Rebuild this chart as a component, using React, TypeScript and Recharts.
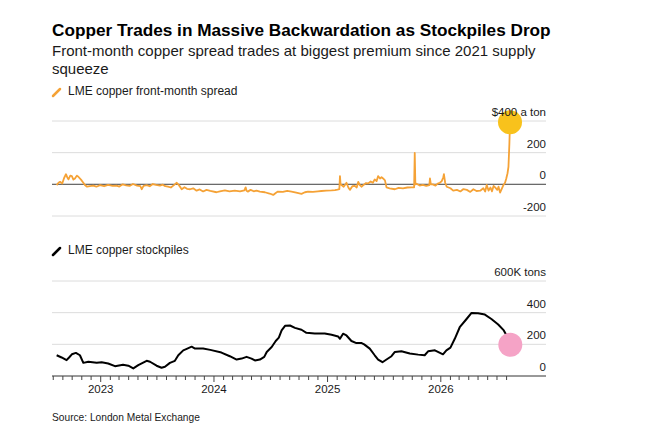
import React from 'react';
import { LineChart, Line, XAxis, YAxis, CartesianGrid, ReferenceLine } from 'recharts';

// ---------- DATA ----------
const spreadDates = [
  '2022-08-12', '2022-08-18', '2022-08-23', '2022-08-30', '2022-09-05', '2022-09-11', '2022-09-15', '2022-09-19',
  '2022-09-25', '2022-09-30', '2022-10-05', '2022-10-10', '2022-10-16', '2022-10-21', '2022-10-27', '2022-11-01',
  '2022-11-06', '2022-11-11', '2022-11-18', '2022-11-27', '2022-12-08', '2022-12-18', '2022-12-30', '2023-01-12',
  '2023-01-25', '2023-02-08', '2023-02-21', '2023-03-02', '2023-03-13', '2023-03-24', '2023-04-04', '2023-04-15',
  '2023-04-28', '2023-05-09', '2023-05-13', '2023-05-19', '2023-05-29', '2023-06-08', '2023-06-18', '2023-06-28',
  '2023-07-11', '2023-07-20', '2023-07-28', '2023-08-06', '2023-08-15', '2023-08-25', '2023-09-03', '2023-09-10',
  '2023-09-19', '2023-09-28', '2023-10-06', '2023-10-16', '2023-10-26', '2023-11-06', '2023-11-16', '2023-11-27',
  '2023-12-08', '2023-12-20', '2024-01-09', '2024-01-20', '2024-02-05', '2024-02-20', '2024-03-08', '2024-03-25',
  '2024-04-08', '2024-04-12', '2024-04-15', '2024-04-19', '2024-04-28', '2024-05-08', '2024-05-17', '2024-05-28',
  '2024-06-13', '2024-06-28', '2024-07-10', '2024-07-18', '2024-07-25', '2024-08-10', '2024-08-24', '2024-09-07',
  '2024-09-22', '2024-10-09', '2024-10-20', '2024-10-30', '2024-11-15', '2024-12-01', '2024-12-12', '2024-12-28',
  '2025-01-14', '2025-01-25', '2025-02-02', '2025-02-08', '2025-02-10', '2025-02-12', '2025-02-15', '2025-02-22',
  '2025-03-03', '2025-03-09', '2025-03-14', '2025-03-22', '2025-03-30', '2025-04-05', '2025-04-10', '2025-04-15',
  '2025-04-21', '2025-04-28', '2025-05-05', '2025-05-12', '2025-05-20', '2025-05-27', '2025-06-02', '2025-06-08',
  '2025-06-13', '2025-06-19', '2025-06-24', '2025-06-29', '2025-07-05', '2025-07-10', '2025-07-20', '2025-08-06',
  '2025-08-18', '2025-09-01', '2025-09-15', '2025-09-29', '2025-10-07', '2025-10-09', '2025-10-11', '2025-10-15',
  '2025-10-25', '2025-11-04', '2025-11-15', '2025-11-25', '2025-11-27', '2025-11-30', '2025-12-06', '2025-12-15',
  '2025-12-22', '2025-12-29', '2026-01-04', '2026-01-09', '2026-01-11', '2026-01-15', '2026-01-20', '2026-02-01',
  '2026-02-10', '2026-02-22', '2026-03-05', '2026-03-15', '2026-03-26', '2026-04-06', '2026-04-16', '2026-04-26',
  '2026-05-08', '2026-05-18', '2026-05-24', '2026-05-29', '2026-06-04', '2026-06-10', '2026-06-15', '2026-06-20',
  '2026-06-25', '2026-07-02', '2026-07-06', '2026-07-11', '2026-07-16', '2026-07-22', '2026-07-27', '2026-07-31',
  '2026-08-04', '2026-08-07', '2026-08-10', '2026-08-12',
];
const spreadValues = [
  -5, 10, 16, 5, 40, 64, 45, 31,
  55, 52, 30, 37, 55, 48, 35, 23,
  10, -4, -15, -11, -8, -15, -5, -12,
  -4, -10, -8, -14, 0, -6, -10, 2,
  -8, -12, -31, -10, -5, -12, 2, -4,
  -8, -2, -12, -15, -20, -5, 10, -5,
  -31, -18, -28, -31, -25, -40, -32, -45,
  -35, -42, -50, -44, -38, -44, -40, -45,
  -38, -19, -40, -46, -35, -44, -40, -46,
  -50, -58, -67, -55, -46, -48, -42, -46,
  -52, -60, -50, -46, -48, -44, -42, -40,
  -38, -36, -33, -30, 52, 0, -4, -15,
  10, -20, -35, -12, -10, -20, 16, -5,
  -15, -2, 8, 6, 18, 10, 31, 20,
  52, 37, 45, 37, 25, -19, -25, -31,
  -22, -25, -20, -19, -19, 198, 0, 4,
  -8, -4, -10, -5, 37, 0, 0, -8,
  5, 10, 20, 45, 64, 10, -15, -25,
  -40, -35, -45, -30, -35, -48, -31, -42,
  -40, -25, -45, -4, -40, -20, -44, -10,
  -19, -35, -15, -52, -30, -4, 10, 37,
  70, 110, 256, 392,
];

const stockDates = [
  '2022-08-12', '2022-08-28', '2022-09-13', '2022-09-21', '2022-09-30', '2022-10-13', '2022-10-26', '2022-11-06',
  '2022-11-22', '2022-12-19', '2023-01-04', '2023-01-25', '2023-02-16', '2023-03-14', '2023-03-31', '2023-04-16',
  '2023-05-02', '2023-05-29', '2023-06-09', '2023-06-30', '2023-07-16', '2023-07-27', '2023-08-12', '2023-08-28',
  '2023-09-08', '2023-09-24', '2023-10-07', '2023-10-21', '2023-11-01', '2023-11-27', '2023-12-20', '2024-01-25',
  '2024-02-21', '2024-03-14', '2024-03-30', '2024-04-15', '2024-05-01', '2024-05-12', '2024-05-28', '2024-06-11',
  '2024-06-19', '2024-07-05', '2024-07-18', '2024-07-28', '2024-08-06', '2024-08-17', '2024-09-02', '2024-09-18',
  '2024-10-09', '2024-10-25', '2024-11-21', '2024-12-23', '2025-01-14', '2025-02-04', '2025-02-10', '2025-02-20',
  '2025-03-03', '2025-03-19', '2025-04-04', '2025-04-21', '2025-04-29', '2025-05-17', '2025-06-02', '2025-06-13',
  '2025-06-27', '2025-07-10', '2025-07-26', '2025-08-06', '2025-08-27', '2025-09-23', '2025-10-20', '2025-11-10',
  '2025-11-21', '2025-12-13', '2026-01-08', '2026-01-19', '2026-02-01', '2026-02-15', '2026-03-03', '2026-03-25',
  '2026-04-10', '2026-05-01', '2026-05-23', '2026-06-13', '2026-07-05', '2026-07-23', '2026-08-01', '2026-08-13',
];
const stockValues = [
  131, 117, 100, 117, 137, 146, 131, 83,
  90, 83, 87, 79, 62, 71, 65, 48,
  69, 96, 90, 65, 52, 58, 83, 96,
  131, 162, 173, 185, 173, 173, 165, 148,
  125, 104, 110, 121, 110, 98, 104, 121,
  152, 183, 221, 242, 288, 317, 319, 304,
  292, 273, 269, 269, 260, 250, 235, 267,
  256, 221, 208, 208, 200, 173, 131, 104,
  87, 104, 125, 152, 156, 142, 135, 131,
  156, 162, 137, 162, 179, 235, 308, 360,
  398, 396, 388, 360, 325, 288, 256, 197,
];

const spreadTicks = [-200, 0, 200, 400];
const stockTicks = [0, 200, 400, 600];
const spreadTopLabel = '$400 a ton';
const stockTopLabel = '600K tons';
const xStart = '2022-07-28';
const xEnd = '2026-12-06';
const firstMonthTick = '2022-08-01';
const lastMonthTick = '2026-08-01';

const titleText = 'Copper Trades in Massive Backwardation as Stockpiles Drop';
const subtitleLines = [
  'Front-month copper spread trades at biggest premium since 2021 supply',
  'squeeze',
];
const spreadLegend = 'LME copper front-month spread';
const stockLegend = 'LME copper stockpiles';
const sourceText = 'Source: London Metal Exchange';

// ---------- HELPERS ----------
const ts = (s: string) => {
  const [y, m, d] = s.split('-').map(Number);
  return Date.UTC(y, m - 1, d);
};

const monthTicks: number[] = (() => {
  const out: number[] = [];
  const [y0, m0] = firstMonthTick.split('-').map(Number);
  const end = ts(lastMonthTick);
  let y = y0;
  let m = m0 - 1;
  while (Date.UTC(y, m, 1) <= end) {
    out.push(Date.UTC(y, m, 1));
    m += 1;
    if (m > 11) { m = 0; y += 1; }
  }
  return out;
})();

const spreadData = spreadDates.map((d, i) => ({ t: ts(d), v: spreadValues[i] }));
const stockData = stockDates.map((d, i) => ({ t: ts(d), v: stockValues[i] }));
const xDomain = [ts(xStart), ts(xEnd)];

const FONT = '"Liberation Sans", Arial, Helvetica, sans-serif';
const ORANGE = '#f5a236';
const TEXT = '#1a1a1a';

const makeYTick = (topValue: number, topLabel: string) => (props: any) => {
  const { x, y, payload } = props;
  const label = payload.value === topValue ? topLabel : String(payload.value);
  return (
    <text x={x} y={y - 5} textAnchor="end" fontSize={11.5} fill={TEXT} fontFamily={FONT}>
      {label}
    </text>
  );
};

const MonthTick = (props: any) => {
  const { x, y, payload } = props;
  const d = new Date(payload.value);
  const isYear = d.getUTCMonth() === 0;
  return (
    <g>
      <line x1={x} x2={x} y1={y} y2={y + (isYear ? 6 : 4)} stroke="#444" strokeWidth={1} />
      {isYear && (
        <text x={x} y={y + 17} textAnchor="middle" fontSize={11.5} fill={TEXT} fontFamily={FONT}>
          {d.getUTCFullYear()}
        </text>
      )}
    </g>
  );
};

const makeEndDot = (lastIndex: number, fill: string, opacity: number) => (props: any) => {
  const { cx, cy, index } = props;
  if (index !== lastIndex) return <g key={`d${index}`} />;
  return <circle key={`d${index}`} cx={cx} cy={cy} r={12} fill={fill} fillOpacity={opacity} />;
};

export default function App() {
  return (
    <div
      style={{
        position: 'absolute',
        left: 0,
        top: 0,
        width: 647,
        height: 439,
        background: '#fff',
        overflow: 'hidden',
        fontFamily: FONT,
      }}
    >
      <svg width={647} height={439} style={{ position: 'absolute', left: 0, top: 0 }}>
        <text x={52} y={36} fontSize={17.2} fontWeight="bold" fill="#000" fontFamily={FONT}>
          {titleText}
        </text>
        {subtitleLines.map((l, i) => (
          <text key={i} x={52} y={56 + i * 18} fontSize={15} fill={TEXT} fontFamily={FONT}>
            {l}
          </text>
        ))}
        <line x1={53} y1={96} x2={60} y2={89} stroke={ORANGE} strokeWidth={2.5} strokeLinecap="round" />
        <text x={68} y={95} fontSize={12} fill={TEXT} fontFamily={FONT}>
          {spreadLegend}
        </text>
        <line x1={53} y1={255} x2={60} y2={248} stroke="#000" strokeWidth={2.5} strokeLinecap="round" />
        <text x={68} y={254} fontSize={12} fill={TEXT} fontFamily={FONT}>
          {stockLegend}
        </text>
        <text x={52} y={421} fontSize={10.2} fill={TEXT} fontFamily={FONT}>
          {sourceText}
        </text>
      </svg>

      <div style={{ position: 'absolute', left: 0, top: 100 }}>
        <LineChart
          width={647}
          height={130}
          data={spreadData}
          margin={{ top: 21, right: 100, bottom: 14, left: 52 }}
        >
          <CartesianGrid horizontal vertical={false} stroke="#dcdcdc" strokeWidth={1} />
          <XAxis dataKey="t" type="number" domain={xDomain} hide allowDataOverflow />
          <YAxis
            orientation="right"
            width={1}
            domain={[-200, 400]}
            ticks={spreadTicks}
            axisLine={false}
            tickLine={false}
            tickSize={0}
            tickMargin={0}
            tick={makeYTick(400, spreadTopLabel)}
            interval={0}
          />
          <ReferenceLine y={0} stroke="#6a6a6a" strokeWidth={1.2} />
          <Line
            dataKey="v"
            type="linear"
            stroke={ORANGE}
            strokeWidth={1.8}
            strokeLinejoin="round"
            dot={makeEndDot(spreadData.length - 1, '#f8c21c', 1)}
            activeDot={false}
            isAnimationActive={false}
          />
        </LineChart>
      </div>

      <div style={{ position: 'absolute', left: 0, top: 260 }}>
        <LineChart
          width={647}
          height={140}
          data={stockData}
          margin={{ top: 21, right: 100, bottom: 0, left: 52 }}
        >
          <CartesianGrid horizontal vertical={false} stroke="#dcdcdc" strokeWidth={1} />
          <XAxis
            dataKey="t"
            type="number"
            domain={xDomain}
            allowDataOverflow
            ticks={monthTicks}
            interval={0}
            height={24}
            axisLine={{ stroke: '#444', strokeWidth: 1 }}
            tickLine={false}
            tickSize={0}
            tickMargin={0}
            tick={MonthTick}
          />
          <YAxis
            orientation="right"
            width={1}
            domain={[0, 600]}
            ticks={stockTicks}
            axisLine={false}
            tickLine={false}
            tickSize={0}
            tickMargin={0}
            tick={makeYTick(600, stockTopLabel)}
            interval={0}
          />
          <Line
            dataKey="v"
            type="linear"
            stroke="none"
            dot={makeEndDot(stockData.length - 1, '#f5a3c6', 1)}
            activeDot={false}
            isAnimationActive={false}
          />
          <Line
            dataKey="v"
            type="linear"
            stroke="#000"
            strokeWidth={2}
            strokeLinejoin="round"
            dot={false}
            activeDot={false}
            isAnimationActive={false}
          />
        </LineChart>
      </div>
    </div>
  );
}
